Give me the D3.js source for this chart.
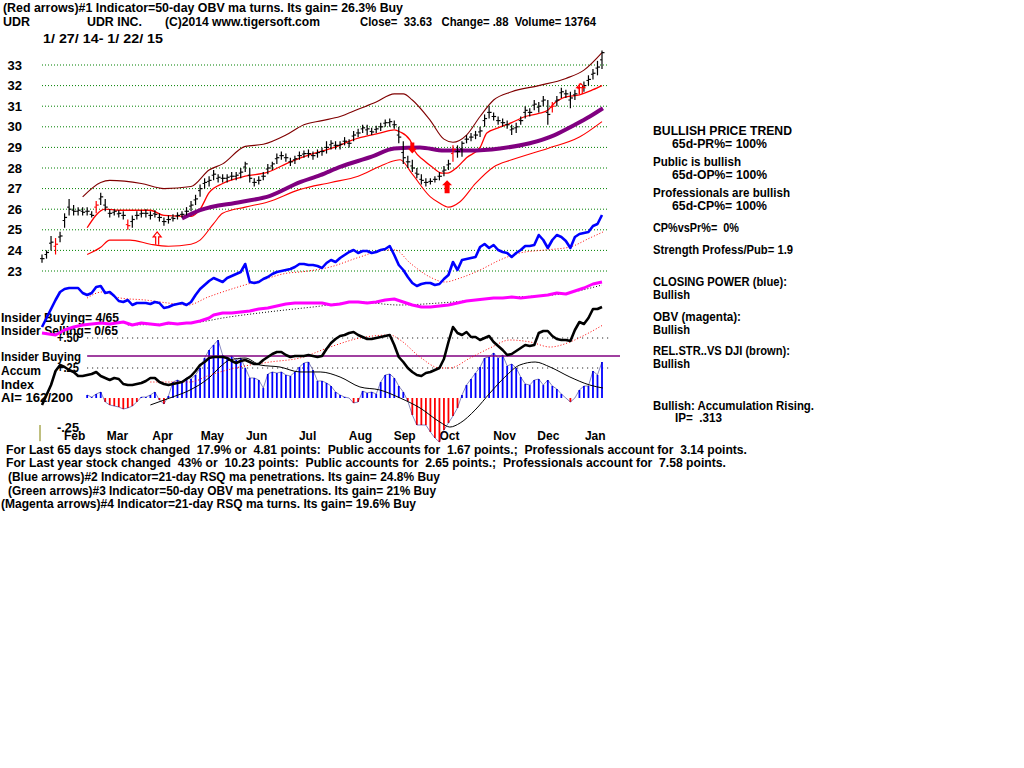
<!DOCTYPE html>
<html><head><meta charset="utf-8">
<script src="https://cdn.jsdelivr.net/npm/d3@7"></script>
<style>
body{margin:0;background:#fff;}
svg{display:block;}
text{font-family:"Liberation Sans",Arial,sans-serif;white-space:pre;}
</style></head><body>
<svg id="c" width="1024" height="768"></svg>
<script>
// ---------------- DATA ----------------
const priceTicks = [23,24,25,26,27,28,29,30,31,32,33];
const months = ["Feb","Mar","Apr","May","Jun","Jul","Aug","Sep","Oct","Nov","Dec","Jan"];
const monthIdx = [7.1,16.6,26.6,37.6,47.4,58.7,70.4,80.2,90.1,102.3,112,122.4];

const priceClose = [
23.6,23.9,24.4,24.3,24.7,25.6,26.0,25.9,25.95,25.85,
25.9,25.7,26.2,26.6,26.1,25.8,25.9,25.8,25.7,25.2,
25.5,25.7,25.8,25.8,25.7,25.75,25.6,25.4,25.5,25.55,
25.7,25.75,25.9,26.2,26.5,27.0,27.3,27.4,27.7,27.55,
27.5,27.55,27.6,27.65,27.8,28.2,27.5,27.3,27.4,27.6,
28.0,28.2,28.5,28.6,28.5,28.3,28.45,28.6,28.7,28.7,
28.6,28.75,28.8,29.0,29.2,29.1,29.15,29.3,29.2,29.6,
29.7,29.95,29.9,29.75,29.9,30.0,30.2,30.25,30.1,29.5,
28.5,28.3,28.0,27.7,27.4,27.3,27.35,27.45,27.6,27.9,
28.2,28.9,28.8,29.2,29.4,29.5,29.6,29.8,30.4,30.7,
30.5,30.3,30.2,30.1,29.9,30.0,30.3,30.8,30.7,31.1,
31.0,31.3,30.6,31.0,31.3,31.7,31.6,31.4,31.6,31.9,
32.0,32.3,32.6,32.9,33.6];
const priceLow = [
23.4,23.6,24.0,23.8,24.4,25.1,25.7,25.7,25.7,25.7,
25.7,25.6,25.8,26.2,25.9,25.6,25.7,25.6,25.5,25.0,
25.1,25.5,25.6,25.6,25.5,25.6,25.4,25.2,25.3,25.4,
25.5,25.6,25.7,25.9,26.2,26.6,27.0,27.1,27.4,27.3,
27.3,27.3,27.4,27.4,27.5,27.8,27.3,27.1,27.2,27.4,
27.7,27.9,28.2,28.4,28.3,28.1,28.2,28.4,28.5,28.5,
28.4,28.5,28.6,28.7,28.9,28.9,28.9,29.1,29.0,29.3,
29.5,29.7,29.6,29.6,29.7,29.8,30.0,30.0,29.9,29.2,
28.2,28.0,27.8,27.5,27.2,27.1,27.2,27.3,27.4,27.6,
27.9,28.3,28.5,28.55,29.2,29.3,29.4,29.5,30.0,30.4,
30.3,30.1,30.0,29.9,29.6,29.7,30.1,30.4,30.5,30.8,
30.7,31.0,30.1,30.7,31.0,31.4,31.4,30.9,31.3,31.6,
31.7,32.0,32.3,32.5,32.8];
const priceHigh = [
23.8,24.0,24.7,24.6,24.9,25.8,26.5,26.2,26.1,26.1,
26.1,25.9,26.4,26.8,26.5,26.0,26.0,25.95,25.9,25.5,
25.7,25.9,25.95,26.0,25.9,25.95,25.8,25.6,25.7,25.75,
25.85,25.9,26.1,26.4,26.7,27.2,27.5,27.6,27.9,27.7,
27.7,27.7,27.8,27.8,28.0,28.3,28.0,27.5,27.6,27.8,
28.2,28.3,28.7,28.8,28.7,28.5,28.6,28.8,28.85,28.9,
28.8,28.9,29.0,29.3,29.35,29.3,29.3,29.5,29.4,29.8,
29.9,30.1,30.1,29.95,30.05,30.2,30.35,30.4,30.3,30.0,
29.3,28.6,28.4,28.0,27.7,27.5,27.5,27.6,27.8,28.1,
28.4,29.1,29.1,29.3,29.6,29.7,29.8,30.0,30.6,31.0,
30.7,30.5,30.4,30.3,30.1,30.2,30.5,31.0,30.9,31.3,
31.2,31.5,31.3,31.2,31.5,31.9,31.8,31.7,31.8,32.1,
32.2,32.5,32.8,33.2,33.7];
const redBarIdx = [3,12,19,91,113,119];

// bands / moving averages: [dayIndex, value]
const upperBand = [[9,26.6],[13,27.3],[15,27.4],[22,27.25],[27,27.0],[33,27.1],[37,27.9],[40,28.2],[45,29.05],[49,29.15],[54,29.6],[58,30.1],[62,30.3],[66,30.5],[70,30.85],[74,31.2],[78,31.6],[80,31.6],[82,31.3],[86,30.3],[89,29.4],[91,29.25],[94,29.6],[97,30.5],[100,31.3],[104,31.7],[110,32.0],[116,32.35],[120,32.75],[124,33.6]];
const midMA = [[10,25.1],[14,26.0],[17,25.95],[24,25.95],[27,25.7],[33,25.65],[35,26.0],[37,26.8],[40,27.25],[45,27.6],[50,27.8],[55,28.3],[60,28.7],[64,28.95],[70,29.45],[75,29.7],[78,29.85],[79.3,29.75],[81.5,29.35],[82.6,28.8],[84.4,28.4],[86.4,28.05],[88.6,27.75],[89.7,27.75],[92,28.05],[94,28.5],[97,29.0],[98.5,29.7],[101,29.95],[104,30.2],[107,30.5],[110,30.65],[112,30.8],[113,31.05],[116,31.45],[119,31.55],[122,31.8],[124,32.0]];
const lowerBand = [[10,23.8],[13,24.15],[15,24.5],[19.5,24.5],[24,24.3],[28,24.2],[33,24.3],[35,24.5],[38,25.3],[40,25.8],[45,26.1],[50,26.35],[57,26.95],[64,27.3],[70,27.6],[75,28.1],[78,28.35],[79.3,28.4],[82,27.7],[86,26.6],[88,26.3],[90,26.1],[92.5,26.35],[96,27.25],[100,28.05],[104,28.4],[112,28.95],[119,29.5],[124,30.25]];
const ma50 = [[31,25.55],[35,25.95],[44,26.35],[50.5,26.65],[57,27.3],[61.6,27.65],[66,28.05],[73,28.55],[78,28.95],[83.7,29.0],[89,28.85],[94.8,28.85],[101.4,28.95],[108,29.2],[113.5,29.6],[118,30.1],[121.3,30.5],[124.2,30.9]];

// arrows
const arrowIdx = [25.5,82,89.7,119.3];
const arrowPrice = [24.9,28.7,27.4,32.1];
const arrowDir = ["up","down","up","up"];

// Closing Power (blue) and its MA
const closingPower = [
3,12,21,30,38,41,42,42,42,37,
35,37,43,44,37,38,34,29,28,30,
25,27,27,27,26,28,27,22,23,25,
26,27,25,28,35,41,45,49,52,50,
48,52,54,56,58,66,48,47,48,51,
53,56,58,59,60,61,63,66,66,65,
65,64,62,67,70,68,72,75,78,80,
77,79,79,77,78,80,81,84,75,65,
60,53,47,44,46,47,47,45,46,51,
55,68,60,70,71,72,73,83,86,82,
85,80,78,77,73,77,80,84,84,85,
95,90,82,90,95,93,89,82,93,96,
97,98,104,106,115];
const cpMA = [[10,32],[13.3,38],[17.3,32],[22.8,30],[27.9,27],[32.3,25],[36.8,33],[42.7,42],[48.7,50],[54.5,57],[57.1,58],[63.8,63],[70.4,73],[76,80],[78.2,80],[81.5,67],[85.9,53],[89.2,48],[92.6,52],[97,60],[101.4,70],[105.8,77],[111.4,80],[116.9,83],[121.3,92],[124.2,98]];

// OBV (magenta) and its MA
const obv = [[0,7],[3,5],[5,10],[7,13],[9,15],[13,17],[15,16],[18,18],[20,15],[22,17],[24,16],[26,15],[28,17],[30,16],[32,17],[33,17],[35,19],[37,22],[38,25],[40,27],[42,27],[44,28],[46,29],[48,31],[50,32],[52,34],[54,36],[56,37],[58,37],[60,37],[62,37],[64,35],[66,36],[68,38],[70,38],[72,37],[74,38],[76,40],[78,41],[80,38],[82,35],[84,33],[86,33],[88,34],[90,35],[92,37],[94,39],[96,40],[98,41],[100,42],[102,42],[104,43],[106,42],[108,43],[110,44],[112,45],[114,47],[116,46],[118,49],[120,52],[122,56],[124,58]];
const obvMA = [[19,15],[32,17],[35,18],[40,22],[50,28],[60,33],[70,38],[79,35],[88,37],[101,42],[115,46],[124,55]];

// Relative strength vs DJI (black) and its MA
const relStr = [
5,15,25,39,45,43,40,38,34,34,
35,36,38,34,32,30,32,31,26,25,
25,26,27,29,32,32,28,26,25,26,
27,28,31,34,39,45,48,52,53,53,
53,52,49,47,49,50,48,46,46,50,
53,56,58,58,55,53,54,54,54,55,
54,53,54,61,67,71,74,75,77,78,
75,73,71,71,72,73,74,75,65,53,
48,42,38,35,34,37,38,40,42,51,
68,83,77,75,78,73,73,70,72,74,
68,64,60,55,56,59,62,65,64,65,
77,79,79,74,71,70,70,69,80,88,
86,92,101,101,103];
const relStrMA = [[24,28],[32.8,28],[37.2,35],[43.8,43],[50.5,48],[57.1,52],[63.8,63],[70.4,72],[77.1,75],[79.3,70],[83.7,53],[88.1,42],[90.3,42],[94.8,52],[99.2,62],[103.6,70],[108.1,68],[112.5,63],[116.9,68],[120.2,75],[124.2,85]];

// Accumulation index (starts at day index 10)
const aiStart = 10;
const accumIndex = [
.025,.008,.033,.05,-.033,-.058,-.067,-.075,-.092,-.083,
-.067,-.033,.008,.008,.025,.05,-.017,-.05,.017,.133,
.15,.133,.167,.158,.192,.25,.333,.4,.442,.483,
.358,.333,.35,.317,.333,.25,.167,.167,.15,.083,
.2,.217,.208,.217,.192,.183,.217,.258,.292,.3,
.233,.142,.142,.125,.1,.05,.025,.008,0,-.042,
-.033,.058,.042,.05,.033,.133,.192,.2,.167,.1,
.05,-.025,-.142,-.225,-.225,-.225,-.283,-.333,-.367,-.267,
-.208,-.15,-.083,.025,.108,.158,.208,.258,.333,.342,
.375,.333,.358,.267,.283,.25,.175,.117,.108,.15,
.158,.108,.15,.1,.075,.033,0,-.033,0,.067,
.1,.1,.225,.192,.3];
const aiMA = [[24,-.058],[28.3,0],[32.8,.067],[37.2,.175],[39.4,.258],[41.6,.317],[45,.333],[48.3,.275],[52.7,.258],[57.1,.217],[61.6,.217],[66,.175],[70.4,.092],[74.8,.067],[79.3,0],[83.7,-.083],[88.1,-.2],[90.3,-.242],[92.6,-.208],[95.9,-.1],[99.2,.042],[102.5,.175],[105.8,.275],[109.2,.3],[112.5,.258],[116.9,.175],[121.3,.108],[124.2,.083]];
const aiLevels = [0.5, 0.25];
const aiLevelValues = [0.5, 0.25, -0.25];
const aiLevelLabels = ["+.50","+.25","-.25"];
const insiderLevel = 0.35;

// ---------------- TEXT ----------------
const headerLine1 = "(Red arrows)#1 Indicator=50-day OBV ma turns. Its gain= 26.3% Buy";
const headerParts = ["UDR","UDR INC.","(C)2014 www.tigersoft.com","Close=  33.63   Change= .88  Volume= 13764"];
const dateRange = "1/ 27/ 14- 1/ 22/ 15";
const leftLabels = ["Insider Buying= 4/65","Insider Selling= 0/65","Insider Buying","Accum","Index","AI= 162/200"];
const rightLabels = ["BULLISH PRICE TREND","65d-PR%= 100%","Public is bullish","65d-OP%= 100%","Professionals are bullish","65d-CP%= 100%","CP%vsPr%=  0%","Strength Profess/Pub= 1.9","CLOSING POWER (blue):","Bullish","OBV (magenta):","Bullish","REL.STR..VS DJI (brown):","Bullish","Bullish: Accumulation Rising.","IP=  .313"];
const bottomLines = [
"For Last 65 days stock changed  17.9% or  4.81 points:  Public accounts for  1.67 points.;  Professionals account for  3.14 points.",
"For Last year stock changed  43% or  10.23 points:  Public accounts for  2.65 points.;  Professionals account for  7.58 points.",
"(Blue arrows)#2 Indicator=21-day RSQ ma penetrations. Its gain= 24.8% Buy",
"(Green arrows)#3 Indicator=50-day OBV ma penetrations. Its gain= 21% Buy",
"(Magenta arrows)#4 Indicator=21-day RSQ ma turns. Its gain= 19.6% Buy"];

// ---------------- DRAW ----------------
const svg = d3.select("#c");
const x = d3.scaleLinear().domain([0,124]).range([42,602]);
const yP = d3.scaleLinear().domain([23,33]).range([271,65]);
const yCP = d3.scaleLinear().domain([0,100]).range([330,230]);
const yOBV = d3.scaleLinear().domain([0,100]).range([340,240]);
const yRS = d3.scaleLinear().domain([0,100]).range([410,310]);
const yAI = d3.scaleLinear().domain([-0.25,0.5]).range([428,338]);

function txt(g, px, py, s, w, size, weight) {
  const t = g.append("text").attr("x", px).attr("y", py).attr("xml:space","preserve").text(s)
    .style("font-size", size + "px").style("font-weight", weight || "bold").attr("fill", "#000");
  if (w) t.attr("textLength", w).attr("lengthAdjust", "spacingAndGlyphs");
  return t;
}
const T = svg.append("g");
// header
txt(T, 3, 12, headerLine1, 400, 12);
const hx = [3, 87, 165, 360], hw = [27, 55, 155, 236];
headerParts.forEach((s,i)=>txt(T, hx[i], 26, s, hw[i], 12));
txt(T, 43, 43, dateRange, 120, 12);

// left labels
const ly = [322,335,361,375,389,402], lw = [118,117,80,40,33,72];
leftLabels.forEach((s,i)=>txt(T, 1, ly[i], s, lw[i], 13));
aiLevelValues.forEach((v,i)=>txt(T, 57, yAI(v)+4, aiLevelLabels[i], 22, 13));

// right labels
const rx = [653,672,653,672,653,672,653,653,653,653,653,653,653,653,653,675];
const ry = [135,148,166,179,197,210,232,254,286,299,321,334,355,368,410,422];
const rw = [139,95,88,95,137,95,86,140,134,37,88,37,137,37,161,47];
rightLabels.forEach((s,i)=>txt(T, rx[i], ry[i], s, rw[i], 12));

// bottom lines
const bx = [6,6,8,8,1], by = [454,467,481,495,508], bw = [741,720,432,428,415];
bottomLines.forEach((s,i)=>txt(T, bx[i], by[i], s, bw[i], 12.5, "bold"));

// price grid
const grid = svg.append("g");
grid.selectAll("line").data(priceTicks).join("line")
  .attr("x1", 42).attr("x2", 607).attr("y1", d=>yP(d)).attr("y2", d=>yP(d))
  .attr("stroke", "#008000").attr("stroke-width", 1).attr("stroke-dasharray", "1,2");

// price axis
const ya = svg.append("g").attr("transform", "translate(22,0)")
  .call(d3.axisLeft(yP).tickValues(priceTicks).tickFormat(d3.format("d")).tickSize(0).tickPadding(0));
ya.select(".domain").remove();
ya.selectAll("text").style("font-size","13px").style("font-weight","bold").style("font-family",'"Liberation Sans",Arial,sans-serif').attr("fill","#000");

// month axis
const xa = svg.append("g").attr("transform", "translate(0,430)")
  .call(d3.axisBottom(x).tickValues(monthIdx).tickFormat((d,i)=>months[i]).tickSize(0).tickPadding(1));
xa.select(".domain").remove();
xa.selectAll("text").style("font-size","12px").style("font-weight","bold").style("font-family",'"Liberation Sans",Arial,sans-serif').attr("fill","#000");

// small olive mark
svg.append("line").attr("x1", x(0)-2).attr("x2", x(0)-2).attr("y1", yAI(-0.225)).attr("y2", yAI(-0.36))
  .attr("stroke", "#808000").attr("stroke-width", 1);

// AI reference lines
const ai = svg.append("g");
ai.selectAll("line.lvl").data(aiLevels).join("line").attr("class","lvl")
  .attr("x1", x(aiStart)).attr("x2", 610).attr("y1", d=>yAI(d)).attr("y2", d=>yAI(d))
  .attr("stroke", "#000").attr("stroke-width", 1).attr("stroke-dasharray", "1,4");
// AI histogram
const aiData = accumIndex.map((v,k)=>({i:k+aiStart, v}));
ai.selectAll("line.bar").data(aiData).join("line").attr("class","bar")
  .attr("x1", d=>x(d.i)).attr("x2", d=>x(d.i))
  .attr("y1", yAI(0)).attr("y2", d=>yAI(d.v))
  .attr("stroke", d=>d.v >= 0 ? "#0000ff" : "#ff0000").attr("stroke-width", 1.8);
ai.append("path").datum(aiData)
  .attr("d", d3.line().x(d=>x(d.i)).y(d=>yAI(d.v)))
  .attr("fill","none").attr("stroke","#00007a").attr("stroke-width",0.8).attr("opacity",0.6);
ai.append("path").datum(aiMA)
  .attr("d", d3.line().x(d=>x(d[0])).y(d=>yAI(d[1])).curve(d3.curveMonotoneX))
  .attr("fill","none").attr("stroke","#000").attr("stroke-width",1);

// insider buying line
svg.append("line").attr("x1", x(aiStart)).attr("x2", 620)
  .attr("y1", yAI(insiderLevel)).attr("y2", yAI(insiderLevel))
  .attr("stroke", "#800080").attr("stroke-width", 1.3);

const smooth = (sc)=>d3.line().x(d=>x(d[0])).y(d=>sc(d[1])).curve(d3.curveMonotoneX);
const daily = (sc)=>d3.line().x((d,i)=>x(i)).y(d=>sc(d));

// relative strength
svg.append("path").datum(relStrMA).attr("d", smooth(yRS))
  .attr("fill","none").attr("stroke","#ff0000").attr("stroke-width",1).attr("stroke-dasharray","1,2");
svg.append("path").datum(relStr).attr("d", daily(yRS))
  .attr("fill","none").attr("stroke","#000").attr("stroke-width",2.6).attr("stroke-linejoin","round");

// OBV
svg.append("path").datum(obvMA).attr("d", smooth(yOBV))
  .attr("fill","none").attr("stroke","#000").attr("stroke-width",1).attr("stroke-dasharray","1,2");
svg.append("path").datum(obv).attr("d", d3.line().x(d=>x(d[0])).y(d=>yOBV(d[1])))
  .attr("fill","none").attr("stroke","#ff00ff").attr("stroke-width",3).attr("stroke-linejoin","round");

// Closing power
svg.append("path").datum(cpMA).attr("d", smooth(yCP))
  .attr("fill","none").attr("stroke","#ff0000").attr("stroke-width",1).attr("stroke-dasharray","1,2");
svg.append("path").datum(closingPower).attr("d", daily(yCP))
  .attr("fill","none").attr("stroke","#0000ff").attr("stroke-width",2.6).attr("stroke-linejoin","round");

// bands
const bandLine = smooth(yP);
svg.append("path").datum(upperBand).attr("d", bandLine).attr("fill","none").attr("stroke","#800000").attr("stroke-width",1.1);
svg.append("path").datum(lowerBand).attr("d", bandLine).attr("fill","none").attr("stroke","#ff0000").attr("stroke-width",1.1);
svg.append("path").datum(midMA).attr("d", bandLine).attr("fill","none").attr("stroke","#ff0000").attr("stroke-width",1.3);
svg.append("path").datum(ma50).attr("d", bandLine).attr("fill","none").attr("stroke","#800080").attr("stroke-width",4);

// price bars
const bars = priceClose.map((c,i)=>({i, c, lo:priceLow[i], hi:priceHigh[i], red:redBarIdx.includes(i)}));
const pb = svg.append("g");
pb.selectAll("line.v").data(bars).join("line").attr("class","v")
  .attr("x1", d=>x(d.i)).attr("x2", d=>x(d.i)).attr("y1", d=>yP(d.lo)).attr("y2", d=>yP(d.hi))
  .attr("stroke", d=>d.red ? "#ff0000" : "#000").attr("stroke-width", 1.2);
pb.selectAll("line.c").data(bars).join("line").attr("class","c")
  .attr("x1", d=>x(d.i)).attr("x2", d=>x(d.i)+2.5).attr("y1", d=>yP(d.c)).attr("y2", d=>yP(d.c))
  .attr("stroke", d=>d.red ? "#ff0000" : "#000").attr("stroke-width", 1.2);
pb.selectAll("line.o").data(bars).join("line").attr("class","o")
  .attr("x1", d=>x(d.i)-2).attr("x2", d=>x(d.i)).attr("y1", d=>yP((d.lo+d.hi)/2)).attr("y2", d=>yP((d.lo+d.hi)/2))
  .attr("stroke", d=>d.red ? "#ff0000" : "#000").attr("stroke-width", 1);

// arrows
const ag = svg.append("g");
arrowIdx.forEach((ix,k)=>{
  const cx = x(ix), ty = yP(arrowPrice[k]);
  if (k === 0 || k === 3) {
    const s = k === 0 ? 1 : 0.8;
    ag.append("path").attr("d",
      `M${cx-1.5},${ty+13*s} L${cx-1.5},${ty+5*s} L${cx-4},${ty+5*s} L${cx},${ty} L${cx+4},${ty+5*s} L${cx+1.5},${ty+5*s} L${cx+1.5},${ty+13*s}`)
      .attr("fill","none").attr("stroke","#ff0000").attr("stroke-width",1.2);
  } else if (arrowDir[k] === "down") {
    ag.append("path").attr("d",
      `M${cx-2},${ty-11} L${cx+2},${ty-11} L${cx+2},${ty-5} L${cx+4.5},${ty-5} L${cx},${ty} L${cx-4.5},${ty-5} L${cx-2},${ty-5} Z`)
      .attr("fill","#ff0000");
  } else {
    ag.append("path").attr("d",
      `M${cx-2.5},${ty+13} L${cx+2.5},${ty+13} L${cx+2.5},${ty+5} L${cx+5},${ty+5} L${cx},${ty} L${cx-5},${ty+5} L${cx-2.5},${ty+5} Z`)
      .attr("fill","#ff0000");
  }
});
</script>
</body></html>
